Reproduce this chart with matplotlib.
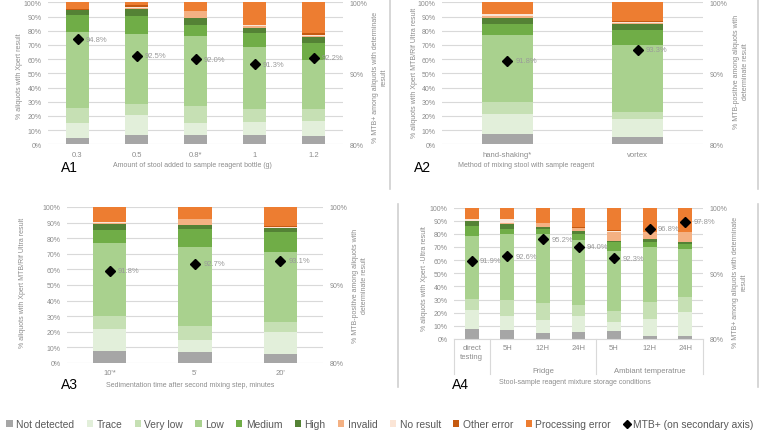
import matplotlib
matplotlib.use("Agg")
import matplotlib.pyplot as plt
from matplotlib.patches import Patch
from matplotlib.lines import Line2D
from matplotlib.ticker import PercentFormatter

plt.rcParams['font.family'] = ['Liberation Sans', 'DejaVu Sans']

W, H = 760, 431

series = ["Not detected", "Trace", "Very low", "Low", "Medium", "High",
          "Invalid", "No result", "Other error", "Processing error"]
colors = ["#a6a6a6", "#e2efda", "#c6e0b4", "#a9d18e", "#70ad47", "#548235",
          "#f4b183", "#fbe5d6", "#c55a11", "#ed7d31"]

# A1 - amount of stool; one row per series (same order as `series`)
a1_cats = ["0.3", "0.5", "0.8*", "1", "1.2"]
a1_stack = [
    [4.7, 6.8, 6.8, 6.8, 6.1],
    [10.1, 13.6, 8.5, 8.7, 10.3],
    [11.0, 8.0, 11.9, 9.4, 8.7],
    [53.1, 49.1, 48.9, 43.9, 34.1],
    [12.4, 12.9, 8.2, 9.4, 12.4],
    [3.1, 4.9, 4.7, 4.0, 4.3],
    [0.0, 1.0, 4.9, 1.4, 0.4],
    [0.0, 0.7, 0.0, 0.7, 0.8],
    [1.2, 0.8, 0.0, 0.0, 1.2],
    [4.4, 2.2, 6.1, 15.7, 21.7],
]
a1_mtb = [94.8, 92.5, 92.0, 91.3, 92.2]

# A2 - mixing method
a2_cats = ["hand-shaking*", "vortex"]
a2_stack = [
    [7.3, 5.4],
    [14.1, 12.4],
    [8.4, 4.7],
    [47.2, 47.7],
    [7.7, 10.6],
    [4.0, 3.7],
    [1.5, 1.0],
    [1.6, 0.6],
    [0.0, 0.6],
    [8.2, 13.3],
]
a2_mtb = [91.8, 93.3]

# A3 - sedimentation time
a3_cats = ["10'*", "5'", "20'"]
a3_stack = [
    [7.5, 6.8, 5.8],
    [14.0, 8.1, 14.2],
    [8.6, 9.0, 6.0],
    [47.1, 50.7, 45.4],
    [8.1, 11.1, 12.6],
    [3.6, 2.6, 2.3],
    [0.6, 3.7, 0.5],
    [1.0, 0.0, 0.4],
    [0.0, 0.0, 0.9],
    [9.5, 8.0, 11.9],
]
a3_mtb = [91.8, 92.7, 93.1]

# A4 - storage conditions
a4_cats = ["direct\ntesting", "5H", "12H", "24H", "5H", "12H", "24H"]
a4_groups = ["Fridge", "Ambiant temperatrue"]
a4_stack = [
    [7.6, 6.8, 4.3, 5.1, 5.8, 2.5, 2.0],
    [14.5, 10.9, 10.2, 12.1, 6.9, 12.7, 18.8],
    [8.3, 12.0, 12.6, 8.9, 8.9, 12.7, 10.9],
    [47.7, 50.2, 52.8, 49.2, 45.6, 41.8, 36.8],
    [8.1, 3.8, 3.5, 4.6, 6.3, 4.3, 3.7],
    [3.8, 3.8, 1.4, 2.0, 1.3, 1.7, 1.3],
    [0.0, 1.0, 3.6, 2.5, 6.6, 5.8, 7.6],
    [1.3, 2.5, 0.0, 0.0, 0.5, 0.0, 0.0],
    [0.0, 0.0, 0.0, 1.0, 1.0, 0.0, 0.0],
    [8.7, 9.0, 11.6, 14.6, 17.1, 18.5, 18.9],
]
a4_mtb = [91.9, 92.6, 95.2, 94.0, 92.3, 96.8, 97.8]

GRID = "#d9d9d9"
TXT = "#8c8c8c"

fig = plt.figure(figsize=(W / 100, H / 100), dpi=100)


def px_axes(left, top, right, bottom):
    return fig.add_axes([left / W, 1 - bottom / H, (right - left) / W, (bottom - top) / H])


def ftext(x, y, s, **kw):
    kw.setdefault("fontsize", 5)
    kw.setdefault("color", TXT)
    kw.setdefault("ha", "center")
    kw.setdefault("va", "center")
    fig.text(x / W, 1 - y / H, s, **kw)


def draw_panel(ax, cats, stack, mtb, xpad=4.5):
    x = list(range(len(cats)))
    bottom = [0.0] * len(cats)
    for vals, c in zip(stack, colors):
        ax.bar(x, vals, 0.39, bottom=bottom, color=c, linewidth=0, zorder=2)
        bottom = [b + v for b, v in zip(bottom, vals)]
    ax.set_xlim(-0.5, len(cats) - 0.5)
    ax.set_ylim(0, 100)
    ax.set_yticks(range(0, 101, 10))
    ax.yaxis.set_major_formatter(PercentFormatter(decimals=0))
    ax.yaxis.grid(True, color=GRID, lw=0.8)
    ax.set_axisbelow(True)
    for s in ax.spines.values():
        s.set_visible(False)
    ax.set_xticks(x)
    ax.set_xticklabels(cats)
    ax.tick_params(axis="y", length=0, labelsize=5, labelcolor=TXT, pad=4.5)
    ax.tick_params(axis="x", length=0, labelsize=5.5, labelcolor=TXT, pad=xpad)

    ax2 = ax.twinx()
    ax2.set_ylim(80, 100)
    ax2.set_yticks([80, 90, 100])
    ax2.yaxis.set_major_formatter(PercentFormatter(decimals=0))
    for s in ax2.spines.values():
        s.set_visible(False)
    ax2.tick_params(axis="y", length=0, labelsize=5, labelcolor=TXT, pad=5)
    ax2.plot(x, mtb, "D", color="black", ms=4.8, zorder=5)
    for xi, v in zip(x, mtb):
        ax2.annotate(f"{v:.1f}%", (xi, v), xytext=(6, 0), textcoords="offset points",
                     va="center", fontsize=5.5, color="#9a9a9a")
    return ax2


# A1
ax1 = px_axes(48, 3.3, 343, 145.3)
draw_panel(ax1, a1_cats, a1_stack, a1_mtb)
ftext(20, 76, "% aliquots with Xpert result", rotation=90)
ftext(379.5, 77, "% MTB+ among aliquots with determinate\nresult", rotation=90, linespacing=1.3)
ftext(192, 166, "Amount of stool added to sample reagent bottle (g)")
ftext(61, 168, "A1", fontsize=10, color="black", ha="left")

# A2
ax2 = px_axes(441.7, 3.3, 703, 145.3)
draw_panel(ax2, a2_cats, a2_stack, a2_mtb)
ftext(415, 73, "% aliquots with Xpert MTB/Rif Ultra result", rotation=90)
ftext(741, 72, "% MTB-positive among aliquots with\ndeterminate result", rotation=90, linespacing=1.3)
ftext(526, 166, "Method of mixing stool with sample reagent")
ftext(414, 168, "A2", fontsize=10, color="black", ha="left")

# A3
ax3 = px_axes(67, 208, 323, 364)
draw_panel(ax3, a3_cats, a3_stack, a3_mtb)
ftext(23, 283, "% aliquots with Xpert MTB/Rif Ultra result", rotation=90)
ftext(360, 286, "% MTB-positive among aliquots with\ndeterminate result", rotation=90, linespacing=1.3)
ftext(190, 386, "Sedimentation time after second mixing step, minutes")
ftext(61, 385, "A3", fontsize=10, color="black", ha="left")

# A4
ax4 = px_axes(454, 208.5, 703, 340)
draw_panel(ax4, a4_cats, a4_stack, a4_mtb, xpad=3.5)
ax4.spines["bottom"].set_visible(True)
ax4.spines["bottom"].set_color(GRID)
for lbl in ax4.get_xticklabels():
    lbl.set_linespacing(1.4)
depth = -35 / 131.5
for xb in [-0.5, 0.5, 3.5, 6.5]:
    ax4.plot([xb, xb], [0, depth], color=GRID, lw=0.8, clip_on=False,
             transform=ax4.get_xaxis_transform())
ax4.text(2, -31.7 / 131.5, a4_groups[0], transform=ax4.get_xaxis_transform(),
         ha="center", va="center", fontsize=5.5, color=TXT)
ax4.text(5, -31.7 / 131.5, a4_groups[1], transform=ax4.get_xaxis_transform(),
         ha="center", va="center", fontsize=5.5, color=TXT)
ftext(425, 279, "% aliquots with Xpert -Ultra result", rotation=90)
ftext(740, 282, "% MTB+ among aliquots with determinate\nresult", rotation=90, linespacing=1.3)
ftext(575, 383, "Stool-sample reagent mixture storage conditions")
ftext(452, 385, "A4", fontsize=10, color="black", ha="left")

# panel frames
for xs, ys in [([390, 390], [0, 190]), ([758, 758], [0, 190]),
               ([398, 398], [205, 388]), ([758, 758], [205, 388])]:
    fig.add_artist(Line2D([v / W for v in xs], [1 - v / H for v in ys],
                          color="#d0d0d0", lw=1.2))

# legend
handles = [Patch(facecolor=c, edgecolor="none", label=s) for s, c in zip(series, colors)]
handles.append(Line2D([], [], marker="D", color="black", linestyle="none", ms=4,
                      label="MTB+ (on secondary axis)"))
fig.legend(handles=handles, loc="center", bbox_to_anchor=(0.5, 1 - 425 / H), ncol=11,
           frameon=False, fontsize=7.4, handlelength=0.6, handleheight=0.6,
           handletextpad=0.35, columnspacing=1.2, borderpad=0, labelcolor="#595959")

fig.savefig("out.png", dpi=100)
